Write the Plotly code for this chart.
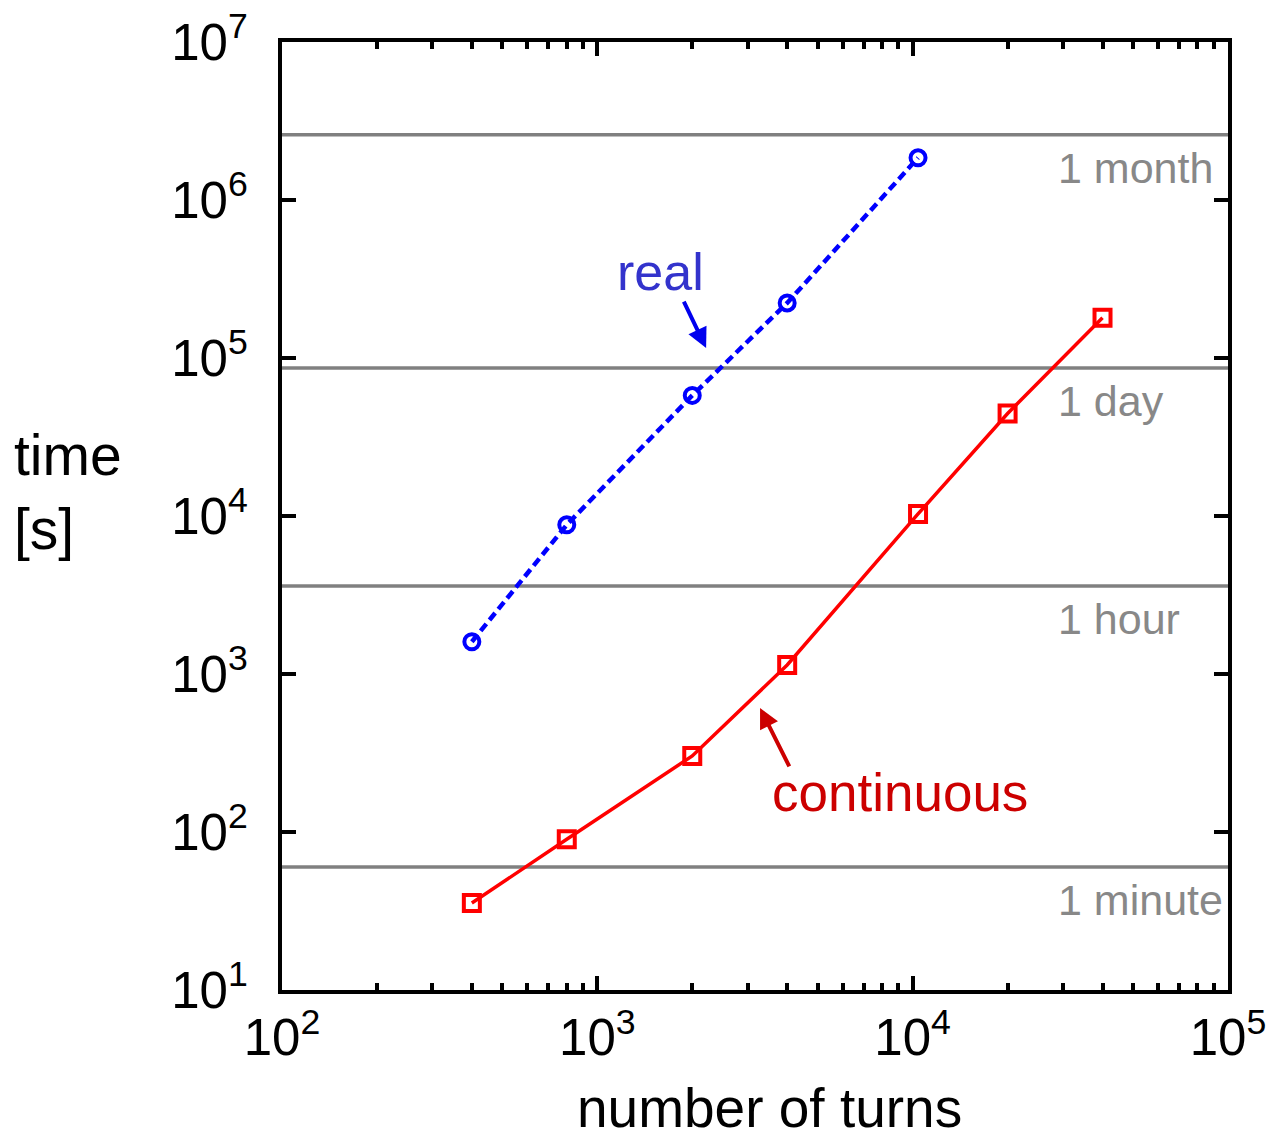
import numpy as np
import plotly.graph_objects as go

# Measured run times against number of turns
turns_real = [400, 800, 2000, 4000, 10400]
time_real = [1600, 8800, 58000, 223000, 1850000]

turns_cont = [400, 800, 2000, 4000, 10400, 20000, 40000]
time_cont = [35.5, 90, 303, 1140, 10300, 44500, 180000]

# Reference durations in seconds
ref_labels = ["1 month", "1 day", "1 hour", "1 minute"]
ref_seconds = [2592000, 86400, 3600, 60]

x_ticks = [1e2, 1e3, 1e4, 1e5]
x_ticktext = ["10<sup>2</sup>", "10<sup>3</sup>", "10<sup>4</sup>", "10<sup>5</sup>"]
y_ticks = [1e1, 1e2, 1e3, 1e4, 1e5, 1e6, 1e7]
y_ticktext = ["10<sup>%d</sup>" % k for k in range(1, 8)]

FONT = "Liberation Sans, Arial, Helvetica, sans-serif"

fig = go.Figure()

# Horizontal reference lines
for s in ref_seconds:
    fig.add_trace(go.Scatter(
        x=[1e2, 1e5], y=[s, s], mode="lines",
        line=dict(color="#808080", width=3.5), hoverinfo="skip", showlegend=False))

fig.add_trace(go.Scatter(
    x=turns_real, y=time_real, mode="lines+markers", name="real",
    line=dict(color="#0000ff", width=4.5, dash="9px,5px"),
    marker=dict(symbol="circle-open", size=15, color="#0000ff", line=dict(width=4)),
    showlegend=False))

fig.add_trace(go.Scatter(
    x=turns_cont, y=time_cont, mode="lines+markers", name="continuous",
    line=dict(color="#ff0000", width=3.5),
    marker=dict(symbol="square-open", size=16, color="#ff0000", line=dict(width=4)),
    showlegend=False))

annotations = []
for lab, s in zip(ref_labels, ref_seconds):
    annotations.append(dict(
        x=np.log10(28400), y=np.log10(s), xref="x", yref="y", text=lab,
        showarrow=False, xanchor="left", yanchor="middle", yshift=-33,
        font=dict(family=FONT, size=43, color="#888888")))

# Series labels with pointing arrows
annotations.append(dict(
    x=np.log10(1590), y=5.544, xref="x", yref="y", text="real", showarrow=False,
    font=dict(family=FONT, size=52, color="#3333cc")))
annotations.append(dict(
    x=np.log10(2213), y=np.log10(115600), xref="x", yref="y", text="",
    showarrow=True, ax=-23, ay=-48, arrowhead=2, arrowsize=1, arrowwidth=4,
    arrowcolor="#0000ee"))
annotations.append(dict(
    x=np.log10(9100), y=2.247, xref="x", yref="y", text="continuous", showarrow=False,
    font=dict(family=FONT, size=53, color="#cc0000")))
annotations.append(dict(
    x=np.log10(3281), y=np.log10(610), xref="x", yref="y", text="",
    showarrow=True, ax=30, ay=60, arrowhead=2, arrowsize=1, arrowwidth=4,
    arrowcolor="#cc0000"))

# Axis titles
annotations.append(dict(
    x=0.515, y=-0.1245, xref="paper", yref="paper", text="number of turns",
    showarrow=False, xanchor="center", yanchor="middle",
    font=dict(family=FONT, size=55, color="black")))
annotations.append(dict(
    x=-0.285, y=0.525, xref="paper", yref="paper", text="time<br>[s]",
    showarrow=False, xanchor="left", yanchor="middle", align="left",
    font=dict(family=FONT, size=57, color="black")))

fig.update_layout(
    width=1272, height=1144,
    margin=dict(l=282, r=44, t=42, b=154, autoexpand=False),
    plot_bgcolor="white", paper_bgcolor="white",
    font=dict(family=FONT, size=50, color="black"),
    annotations=annotations,
    showlegend=False,
)

fig.update_xaxes(
    type="log", range=[2, 5], tickvals=x_ticks, ticktext=x_ticktext,
    ticks="inside", ticklen=14, tickwidth=3.5, tickcolor="black",
    showline=True, linewidth=4, linecolor="black", mirror="ticks",
    showgrid=False, zeroline=False, automargin=False,
    minor=dict(ticks="inside", ticklen=7, tickwidth=3.5, tickcolor="black",
               dtick="D1", showgrid=False),
    tickfont=dict(family=FONT, size=51, color="black"),
)
fig.update_yaxes(
    type="log", range=[1, 7], tickvals=y_ticks, ticktext=y_ticktext,
    ticks="inside", ticklen=14, tickwidth=3.5, tickcolor="black",
    showline=True, linewidth=4, linecolor="black", mirror="ticks",
    showgrid=False, zeroline=False, automargin=False, ticklabelstandoff=20,
    tickfont=dict(family=FONT, size=51, color="black"),
)

fig.write_html("out.html")
